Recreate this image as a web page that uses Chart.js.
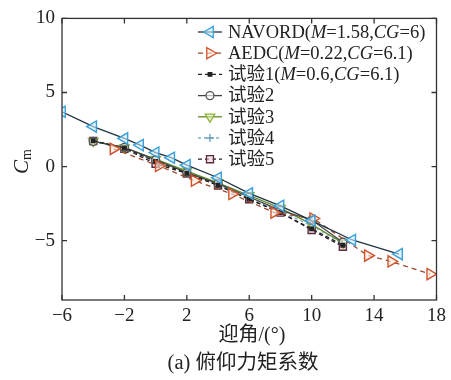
<!DOCTYPE html>
<html>
<head>
<meta charset="utf-8">
<script src="https://cdn.jsdelivr.net/npm/chart.js@4"></script>
<style>
  html, body { margin: 0; padding: 0; background: #fff; }
  #wrap { width: 451px; height: 380px; }
</style>
</head>
<body>
<div id="wrap"><canvas id="chart" width="451" height="380"></canvas></div>
<script>
// datos
const navordAlpha = [-6, -4, -2, -1, 0, 1, 2, 4, 6, 8, 10, 12.6, 15.6];
const navordCm = [3.7, 2.7, 1.9, 1.45, 0.95, 0.6, 0.1, -0.75, -1.8, -2.65, -3.65, -4.95, -5.9];

const aedcAlpha = [-2.7, 0.2, 2.5, 4.9, 7.6, 10.1, 13.6, 15.1, 17.6];
const aedcCm = [1.2, 0.05, -0.95, -1.85, -3.1, -3.5, -6.0, -6.4, -7.25];

const testAlpha = [-4, -2, 0, 2, 4, 6, 8, 10, 12];
const test1Cm = [1.75, 1.25, 0.35, -0.45, -1.25, -2.2, -3.1, -4.2, -5.3];
const test2Cm = [1.7, 1.3, 0.45, -0.4, -1.15, -2.05, -2.95, -3.6, -5.1];
const test3Cm = [1.72, 1.28, 0.5, -0.3, -1.1, -1.95, -2.8, -3.9, -5.15];
const test4Cm = [1.7, 1.2, 0.4, -0.4, -1.2, -2.1, -3.0, -4.0, -5.2];
const test5Cm = [1.73, 1.2, 0.2, -0.47, -1.27, -2.2, -3.1, -4.27, -5.4];

const legendLabels = [
    'NAVORD(*M*=1.58,*CG*=6)',
    'AEDC(*M*=0.22,*CG*=6.1)',
    '试验1(*M*=0.6,*CG*=6.1)',
    '试验2',
    '试验3',
    '试验4',
    '试验5'
];
const xTicks = [-6, -2, 2, 6, 10, 14, 18];
const yTicks = [-5, 0, 5, 10];

const serif = '"Liberation Serif", "Noto Sans CJK SC", serif';

function puntos(xs, ys) {
    return xs.map((x, i) => ({ x: x, y: ys[i] }));
}

function menos(v) {
    return v < 0 ? '−' + Math.abs(v) : String(v);
}

const estilos = [
    { line: '#1f3444', dash: [], point: 'triangle', rot: -90, r: 6.5, edge: '#3a9fd8', fill: 'rgba(205,235,250,0.6)' },
    { line: '#9a4a30', dash: [5, 4], point: 'triangle', rot: 90, r: 6.5, edge: '#d0522c', fill: 'rgba(255,235,220,0.6)' },
    { line: '#222', dash: [4, 3], point: 'rect', rot: 0, r: 2.5, edge: '#222', fill: '#222' },
    { line: '#444', dash: [], point: 'circle', rot: 0, r: 4, edge: '#555', fill: 'rgba(255,255,255,0.6)' },
    { line: '#5f8a2a', dash: [], point: 'triangle', rot: 180, r: 5.5, edge: '#8db33a', fill: 'rgba(230,240,180,0.6)' },
    { line: '#7aaed0', dash: [3, 3], point: 'cross', rot: 0, r: 4, edge: '#6a9fc4', fill: '#6a9fc4' },
    { line: '#2b1a22', dash: [4, 3], point: 'rect', rot: 0, r: 5, edge: '#5a2b3b', fill: 'rgba(235,205,215,0.6)' }
];

const series = [
    puntos(navordAlpha, navordCm),
    puntos(aedcAlpha, aedcCm),
    puntos(testAlpha, test1Cm),
    puntos(testAlpha, test2Cm),
    puntos(testAlpha, test3Cm),
    puntos(testAlpha, test4Cm),
    puntos(testAlpha, test5Cm)
];

const datasets = series.map((d, i) => {
    const e = estilos[i];
    return {
        label: legendLabels[i].replace(/\*/g, ''),
        data: d,
        showLine: true,
        borderColor: e.line,
        borderWidth: 1.3,
        borderDash: e.dash,
        pointStyle: e.point,
        pointRotation: e.rot,
        pointRadius: e.r,
        pointBorderColor: e.edge,
        pointBackgroundColor: e.fill,
        pointBorderWidth: 1.4
    };
});

// dibuja texto con partes en cursiva marcadas con *
function textoMixto(ctx, txt, x, y, size) {
    const partes = txt.split('*');
    let cx = x;
    partes.forEach((p, i) => {
        ctx.font = (i % 2 ? 'italic ' : '') + size + 'px ' + serif;
        ctx.fillText(p, cx, y);
        cx += ctx.measureText(p).width;
    });
}

const marcoPlugin = {
    id: 'marco',
    afterDraw(chart) {
        const ctx = chart.ctx;
        const a = chart.chartArea;
        const sx = chart.scales.x, sy = chart.scales.y;
        ctx.save();
        ctx.strokeStyle = '#333';
        ctx.lineWidth = 1.3;
        ctx.setLineDash([]);
        ctx.strokeRect(a.left, a.top, a.right - a.left, a.bottom - a.top);
        // marcas hacia dentro
        const tl = 5;
        ctx.beginPath();
        xTicks.forEach(v => {
            const px = sx.getPixelForValue(v);
            ctx.moveTo(px, a.bottom); ctx.lineTo(px, a.bottom - tl);
            ctx.moveTo(px, a.top); ctx.lineTo(px, a.top + tl);
        });
        yTicks.forEach(v => {
            const py = sy.getPixelForValue(v);
            ctx.moveTo(a.left, py); ctx.lineTo(a.left + tl, py);
            ctx.moveTo(a.right, py); ctx.lineTo(a.right - tl, py);
        });
        ctx.stroke();

        // titulos
        ctx.fillStyle = '#222';
        ctx.textAlign = 'center';
        ctx.textBaseline = 'middle';
        ctx.font = '20px ' + serif;
        ctx.fillText('迎角/(°)', 252, 336);
        ctx.font = '20.5px ' + serif;
        ctx.fillText('(a) 俯仰力矩系数', 243, 364);

        ctx.save();
        ctx.translate(22, 162);
        ctx.rotate(-Math.PI / 2);
        ctx.textAlign = 'left';
        ctx.font = 'italic 21px ' + serif;
        const wC = ctx.measureText('C').width;
        ctx.fillText('C', -wC / 2 - 5, 0);
        ctx.font = '14px ' + serif;
        ctx.fillText('m', wC / 2 - 5, 5);
        ctx.restore();

        // leyenda
        const lx = 198, ly0 = 32, dy = 21.2;
        legendLabels.forEach((lab, i) => {
            const e = estilos[i];
            const y = ly0 + i * dy;
            ctx.strokeStyle = e.line;
            ctx.lineWidth = 1.3;
            ctx.setLineDash(e.dash);
            ctx.beginPath();
            ctx.moveTo(lx, y); ctx.lineTo(lx + 24, y);
            ctx.stroke();
            ctx.setLineDash([]);
            ctx.strokeStyle = e.edge;
            ctx.fillStyle = e.fill;
            Chart.helpers.drawPoint(ctx, {
                pointStyle: e.point, rotation: e.rot, radius: e.r, borderWidth: 1.4
            }, lx + 12, y);
            ctx.fillStyle = '#222';
            ctx.textAlign = 'left';
            ctx.textBaseline = 'middle';
            textoMixto(ctx, lab, lx + 30, y + 1, 18.5);
        });
        ctx.restore();
    }
};

new Chart(document.getElementById('chart'), {
    type: 'scatter',
    data: { datasets: datasets },
    options: {
        responsive: false,
        animation: false,
        layout: { padding: { left: 0, right: 14, top: 16, bottom: 0 } },
        plugins: { legend: { display: false }, tooltip: { enabled: false } },
        scales: {
            x: {
                min: -6, max: 18,
                grid: { display: false, drawTicks: false },
                border: { display: false },
                afterBuildTicks: s => { s.ticks = xTicks.map(v => ({ value: v })); },
                afterFit: s => { s.height = 80; },
                ticks: { color: '#222', padding: 5, font: { family: serif, size: 19 }, maxRotation: 0, callback: menos }
            },
            y: {
                min: -9, max: 10,
                grid: { display: false, drawTicks: false },
                border: { display: false },
                afterBuildTicks: s => { s.ticks = yTicks.map(v => ({ value: v })); },
                afterFit: s => { s.width = 62; },
                ticks: { color: '#222', padding: 7, font: { family: serif, size: 19 }, callback: menos }
            }
        }
    },
    plugins: [marcoPlugin]
});
</script>
</body>
</html>
